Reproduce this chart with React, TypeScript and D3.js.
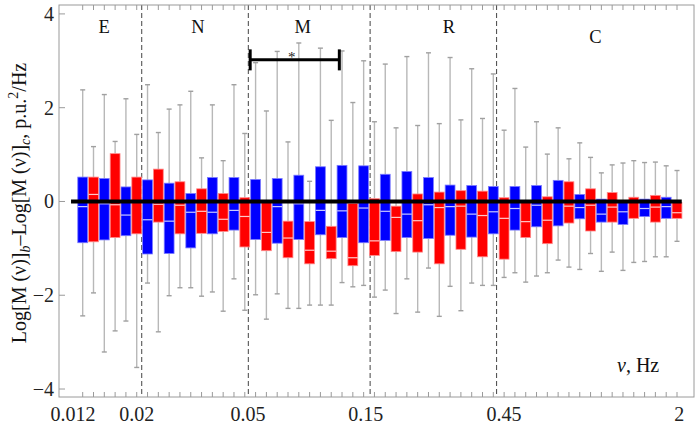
import React from "react";
import * as d3 from "d3";

// Box statistics: [min, q1, median, q3, max]
const blueBoxes: number[][] = [
  [-2.44, -0.88, -0.11, 0.52, 2.38],
  [-3.21, -0.82, -0.05, 0.49, 2.28],
  [-2.55, -0.73, -0.29, 0.31, 2.19],
  [-1.74, -1.12, -0.39, 0.46, 2.49],
  [-2.01, -1.11, -0.42, 0.39, 1.97],
  [-1.84, -0.99, -0.23, 0.17, 2.35],
  [-1.93, -0.69, -0.23, 0.51, 2.06],
  [-1.65, -0.61, -0.19, 0.51, 2.49],
  [-1.99, -0.81, -0.02, 0.47, 2.96],
  [-1.97, -0.89, -0.11, 0.49, 3.2],
  [-2.28, -0.81, -0.05, 0.56, 3.38],
  [-2.21, -0.71, -0.19, 0.74, 3.27],
  [-1.73, -0.77, -0.2, 0.77, 3.21],
  [-1.79, -0.88, -0.14, 0.76, 3.0],
  [-1.89, -0.83, -0.21, 0.58, 2.93],
  [-1.65, -0.77, -0.27, 0.64, 3.09],
  [-1.42, -0.79, -0.07, 0.51, 3.17],
  [-1.81, -0.72, -0.11, 0.35, 3.07],
  [-1.74, -0.76, -0.27, 0.34, 2.83],
  [-1.79, -0.69, -0.22, 0.32, 2.72],
  [-1.52, -0.61, -0.15, 0.32, 2.41],
  [-1.59, -0.54, -0.08, 0.34, 1.7],
  [-1.25, -0.52, 0.0, 0.45, 1.57],
  [-1.45, -0.37, -0.13, 0.15, 1.25],
  [-1.49, -0.44, -0.27, 0.05, 0.61],
  [-1.47, -0.49, -0.22, 0.0, 0.82],
  [-1.28, -0.32, -0.15, 0.05, 0.83],
  [-1.18, -0.36, -0.11, 0.09, 0.76],
];

const redBoxes: number[][] = [
  [-1.95, -0.86, 0.15, 0.52, 1.17],
  [-2.76, -0.77, -0.07, 1.02, 1.28],
  [-3.54, -0.69, 0.0, 0.52, 1.43],
  [-2.78, -0.44, -0.06, 0.69, 1.47],
  [-1.84, -0.69, -0.08, 0.42, 2.06],
  [-2.02, -0.68, -0.21, 0.27, 0.93],
  [-2.34, -0.64, -0.38, 0.17, 0.87],
  [-2.32, -0.97, -0.32, 0.08, 1.45],
  [-2.51, -1.05, -0.66, -0.02, 1.93],
  [-2.28, -1.2, -0.78, -0.42, 1.27],
  [-2.21, -1.33, -1.04, -0.43, 0.43],
  [-2.21, -1.22, -1.06, -0.53, 1.73],
  [-1.82, -1.37, -1.2, -0.04, 2.11],
  [-2.04, -1.15, -0.84, 0.06, 1.7],
  [-2.39, -1.07, -0.34, -0.1, 1.57],
  [-2.36, -1.08, -0.41, 0.16, 1.62],
  [-2.45, -1.33, -0.13, 0.2, 1.66],
  [-2.33, -1.02, -0.1, 0.23, 1.74],
  [-1.79, -1.18, -0.3, 0.22, 1.77],
  [-1.62, -1.23, -0.36, 0.08, 1.52],
  [-1.72, -0.77, -0.43, -0.02, 1.16],
  [-1.52, -0.9, -0.4, 0.1, 1.01],
  [-1.4, -0.46, -0.1, 0.42, 0.91],
  [-1.11, -0.63, -0.08, 0.27, 0.94],
  [-1.08, -0.44, -0.12, 0.19, 0.78],
  [-1.3, -0.36, -0.02, 0.09, 0.87],
  [-1.18, -0.44, -0.12, 0.13, 0.84],
  [-0.85, -0.36, -0.24, -0.02, 0.66],
];

// x tick labels and their positions on the bin axis
const xTickLabels = ["0.012", "0.02", "0.05", "0.15", "0.45", "2"];
const xTickPos = [0.1, 6.0, 16.3, 27.2, 40.0, 56.2];
// region boundaries (dashed) on the bin axis
const boundaryPos = [6.46, 16.33, 27.6, 39.3];
// region labels
const regionLabels = ["E", "N", "M", "R", "C"];
const regionPos = [2.98, 11.67, 21.36, 34.9, 48.44];
const yTicks = [-4, -2, 0, 2, 4];
// significance bracket
const sigStart = 16.5;
const sigEnd = 24.75;
const sigLevel = 3.02;

const W = 695;
const H = 432;
const L = 59, R = 694, T = 5, B = 397;
const FONT = "'Liberation Serif', 'Times New Roman', serif";

export default function App() {
  const nBins = blueBoxes.length + redBoxes.length;
  const x = d3.scaleLinear().domain([1, nBins]).range([82.7, 677]);
  const y = d3.scaleLinear().domain([-4.17, 4.19]).range([B, T]);
  const step = x(2) - x(1);
  const bw = step * 0.91;

  const boxes: { idx: number; s: number[]; color: string }[] = [];
  blueBoxes.forEach((s, j) => boxes.push({ idx: 2 * j + 1, s, color: "blue" }));
  redBoxes.forEach((s, j) => boxes.push({ idx: 2 * j + 2, s, color: "red" }));

  const fill = (c: string) => (c === "blue" ? "#0000ff" : "#ff0000");
  const edge = (c: string) => (c === "blue" ? "#7a7aff" : "#ff8a8a");
  const med = (c: string) => (c === "blue" ? "#c8c8ff" : "#ffc8c8");

  const binIdx = d3.range(1, nBins + 1);

  return (
    <svg
      width={W}
      height={H}
      style={{ position: "absolute", left: 0, top: 0, background: "#fff" }}
      fontFamily={FONT}
    >
      <rect x={0} y={0} width={W} height={H} fill="#fff" />
      {/* dashed boundaries */}
      {boundaryPos.map((p, i) => (
        <line key={"b" + i} x1={x(p)} x2={x(p)} y1={T} y2={B} stroke="#555" strokeWidth={1.1} strokeDasharray="5,3" />
      ))}
      {/* whiskers */}
      {boxes.map((b) => {
        const cx = x(b.idx);
        return (
          <g key={"w" + b.idx} stroke="#b8b8b8" strokeWidth={1.4}>
            <line x1={cx} x2={cx} y1={y(b.s[3])} y2={y(b.s[4])} />
            <line x1={cx} x2={cx} y1={y(b.s[1])} y2={y(b.s[0])} />
            <line x1={cx - 2.5} x2={cx + 2.5} y1={y(b.s[4])} y2={y(b.s[4])} stroke="#a0a0a0" />
            <line x1={cx - 2.5} x2={cx + 2.5} y1={y(b.s[0])} y2={y(b.s[0])} stroke="#a0a0a0" />
          </g>
        );
      })}
      {/* boxes */}
      {boxes.map((b) => {
        const cx = x(b.idx);
        return (
          <g key={"bx" + b.idx}>
            <rect
              x={cx - bw / 2}
              y={y(b.s[3])}
              width={bw}
              height={y(b.s[1]) - y(b.s[3])}
              fill={fill(b.color)}
              stroke={edge(b.color)}
              strokeWidth={0.8}
            />
            <line x1={cx - bw / 2} x2={cx + bw / 2} y1={y(b.s[2])} y2={y(b.s[2])} stroke={med(b.color)} strokeWidth={1.2} />
          </g>
        );
      })}
      {/* zero line */}
      <line x1={x(-0.08)} x2={x(56.44)} y1={y(0)} y2={y(0)} stroke="#000" strokeWidth={4} />
      {/* frame */}
      <rect x={L} y={T} width={R - L} height={B - T} fill="none" stroke="#9a9a9a" strokeWidth={1} />
      {/* bin ticks top and bottom */}
      {binIdx.map((i) => (
        <g key={"t" + i} stroke="#9a9a9a" strokeWidth={1}>
          <line x1={x(i)} x2={x(i)} y1={B} y2={B - 5} />
          <line x1={x(i)} x2={x(i)} y1={T} y2={T + 5} />
        </g>
      ))}
      {/* y ticks */}
      {yTicks.map((v) => (
        <g key={"y" + v}>
          <line x1={L} x2={L + 6} y1={y(v)} y2={y(v)} stroke="#9a9a9a" />
          <text x={54} y={y(v) + 7} textAnchor="end" fontSize={20} fill="#222">
            {v < 0 ? "\u2212" + Math.abs(v) : String(v)}
          </text>
        </g>
      ))}
      {/* x tick labels */}
      {xTickLabels.map((t, i) => (
        <text key={"xl" + i} x={x(xTickPos[i])} y={421} textAnchor="middle" fontSize={20} fill="#222">
          {t}
        </text>
      ))}
      {/* region labels */}
      {regionLabels.map((t, i) => (
        <text key={"r" + i} x={x(regionPos[i])} y={i === 4 ? 43 : 33} textAnchor="middle" fontSize={18.5} fill="#111">
          {t}
        </text>
      ))}
      {/* significance bracket */}
      <g stroke="#000" strokeWidth={3}>
        <line x1={x(sigStart)} x2={x(sigEnd)} y1={y(sigLevel)} y2={y(sigLevel)} />
        <line x1={x(sigStart)} x2={x(sigStart)} y1={y(sigLevel) - 10.5} y2={y(sigLevel) + 10.5} />
        <line x1={x(sigEnd)} x2={x(sigEnd)} y1={y(sigLevel) - 10.5} y2={y(sigLevel) + 10.5} />
      </g>
      <text x={x(20.34)} y={y(sigLevel) + 2} textAnchor="middle" fontSize={15} fill="#222">*</text>
      {/* axis name x */}
      <text x={617} y={372} fontSize={20} fill="#111">
        <tspan fontStyle="italic">ν</tspan>, Hz
      </text>
      {/* axis name y */}
      <text transform={`translate(26,203) rotate(-90)`} textAnchor="middle" fontSize={20} fill="#111">
        Log[M (ν)]<tspan fontStyle="italic" fontSize={14} dy={4}>b</tspan>
        <tspan dy={-4}>–Log[M (ν)]</tspan>
        <tspan fontStyle="italic" fontSize={14} dy={4}>c</tspan>
        <tspan dy={-4}>, p.u.</tspan>
        <tspan fontSize={14} dy={-8}>2</tspan>
        <tspan dy={8}>/Hz</tspan>
      </text>
    </svg>
  );
}
